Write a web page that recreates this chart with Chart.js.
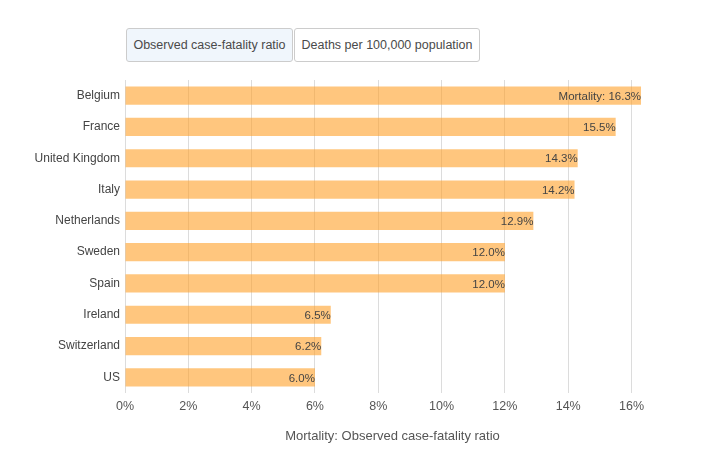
<!DOCTYPE html>
<html>
<head>
<meta charset="utf-8">
<script src="https://cdn.jsdelivr.net/npm/chart.js@4/dist/chart.umd.min.js"></script>
<style>
    body { margin: 0; background: #fff; font-family: "Liberation Sans", sans-serif; }
    #wrap { position: relative; width: 720px; height: 450px; }
    .btn {
        position: absolute; top: 28px; height: 34px; box-sizing: border-box;
        border: 1px solid #ccc; border-radius: 3px; background: #fff;
        font: 12.5px "Liberation Sans", sans-serif; color: #4a4a4a;
        line-height: 32px; text-align: center;
    }
    .btn.active { background: #f0f6fc; }
</style>
</head>
<body>
<div id="wrap">
    <canvas id="mortality-chart" width="720" height="450"></canvas>
    <div class="btn active" style="left:126px;width:167px;">Observed case-fatality ratio</div>
    <div class="btn" style="left:294px;width:186px;">Deaths per 100,000 population</div>
</div>
<script>
const countries = ["Belgium", "France", "United Kingdom", "Italy", "Netherlands", "Sweden", "Spain", "Ireland", "Switzerland", "US"];
const mortality = [16.3, 15.5, 14.3, 14.2, 12.9, 12.0, 12.0, 6.5, 6.2, 6.0];
const xTicks = [0, 2, 4, 6, 8, 10, 12, 14, 16];

// value labels drawn inside the end of each bar
const barLabels = {
    id: "barLabels",
    afterDatasetsDraw(chart) {
        const ctx = chart.ctx;
        const meta = chart.getDatasetMeta(0);
        ctx.save();
        ctx.font = "11.5px 'Liberation Sans', sans-serif";
        ctx.fillStyle = "#444";
        ctx.textAlign = "right";
        ctx.textBaseline = "middle";
        meta.data.forEach((bar, i) => {
            let txt = mortality[i].toFixed(1) + "%";
            if (i === 0) txt = "Mortality: " + txt;
            ctx.fillText(txt, bar.x, bar.y + 1);
        });
        ctx.restore();
    }
};

(function () {
    "use strict"

    const el = document.getElementById("mortality-chart");
    let ctx = el.getContext("2d");
    new Chart(ctx, {
        type: "bar",
        data: {
            labels: countries,
            datasets: [
                {
                    label: "Mortality",
                    data: mortality,
                    backgroundColor: "rgba(255, 160, 40, 0.6)",
                    borderWidth: 0,
                    barPercentage: 0.58,
                    categoryPercentage: 1,
                }
            ],
        },
        options: {
            indexAxis: "y",
            responsive: false,
            animation: false,
            layout: {
                padding: { top: 80, right: 60, left: 0, bottom: 0 },
            },
            plugins: {
                legend: { display: false },
                tooltip: { enabled: false },
            },
            scales: {
                x: {
                    min: 0,
                    max: 16.9,
                    afterBuildTicks: (scale) => {
                        scale.ticks = xTicks.map(v => ({ value: v }));
                    },
                    afterFit: (scale) => { scale.height = 57; },
                    ticks: {
                        callback: (v) => v + "%",
                        color: "#555",
                        padding: 6,
                        font: { family: "Liberation Sans", size: 12.5 },
                    },
                    grid: {
                        color: "#dcdcdc",
                        drawTicks: false,
                    },
                    border: { display: false },
                    title: {
                        display: true,
                        text: "Mortality: Observed case-fatality ratio",
                        color: "#555",
                        padding: { top: 4, bottom: 6 },
                        font: { family: "Liberation Sans", size: 13 },
                    },
                },
                y: {
                    afterFit: (scale) => { scale.width = 125; },
                    ticks: {
                        color: "#444",
                        padding: 5,
                        font: { family: "Liberation Sans", size: 12 },
                    },
                    grid: { display: false, drawTicks: false },
                    border: { display: false },
                },
            },
        },
        plugins: [barLabels],
    });
})()
</script>
</body>
</html>
